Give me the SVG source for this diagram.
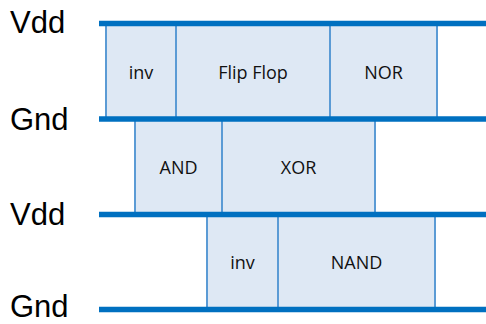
<svg xmlns="http://www.w3.org/2000/svg" width="486" height="324" viewBox="0 0 486 324">
<style>
.cell{fill:#DEE8F4;stroke:#5B9BD5;stroke-width:2}
.ct{font-family:"Open Sans","Liberation Sans",sans-serif;font-size:18px;fill:#111;text-anchor:middle}
.rail{stroke:#0070C0;stroke-width:5.5}
.lbl{font-family:"Liberation Sans",Arial,sans-serif;font-size:31px;fill:#000}
</style>
<rect width="486" height="324" fill="#fff"/>
<g id="cells">
<g id="inv1"><rect class="cell" x="106" y="24" width="70" height="95"/><text class="ct" x="141" y="79">inv</text></g>
<g id="flipflop"><rect class="cell" x="176" y="24" width="154" height="95"/><text class="ct" x="253" y="79">Flip Flop</text></g>
<g id="nor"><rect class="cell" x="330" y="24" width="107" height="95"/><text class="ct" x="383.5" y="79">NOR</text></g>
<g id="and"><rect class="cell" x="135" y="119" width="87" height="95"/><text class="ct" x="178.5" y="174">AND</text></g>
<g id="xor"><rect class="cell" x="222" y="119" width="153" height="95"/><text class="ct" x="298.5" y="174">XOR</text></g>
<g id="inv2"><rect class="cell" x="207" y="214" width="71" height="95"/><text class="ct" x="242.5" y="269">inv</text></g>
<g id="nand"><rect class="cell" x="278" y="214" width="157" height="95"/><text class="ct" x="356.5" y="269">NAND</text></g>
</g>
<g id="connectors">
<line class="rail" x1="99" y1="23.5" x2="486" y2="23.5"/>
<line class="rail" x1="99" y1="119" x2="486" y2="119"/>
<line class="rail" x1="99" y1="214.5" x2="486" y2="214.5"/>
<line class="rail" x1="99" y1="309.5" x2="486" y2="309.5"/>
</g>
<g id="labels">
<text class="lbl" x="10" y="33">Vdd</text>
<text class="lbl" x="10" y="130">Gnd</text>
<text class="lbl" x="10" y="225">Vdd</text>
<text class="lbl" x="10" y="317">Gnd</text>
</g>
</svg>
